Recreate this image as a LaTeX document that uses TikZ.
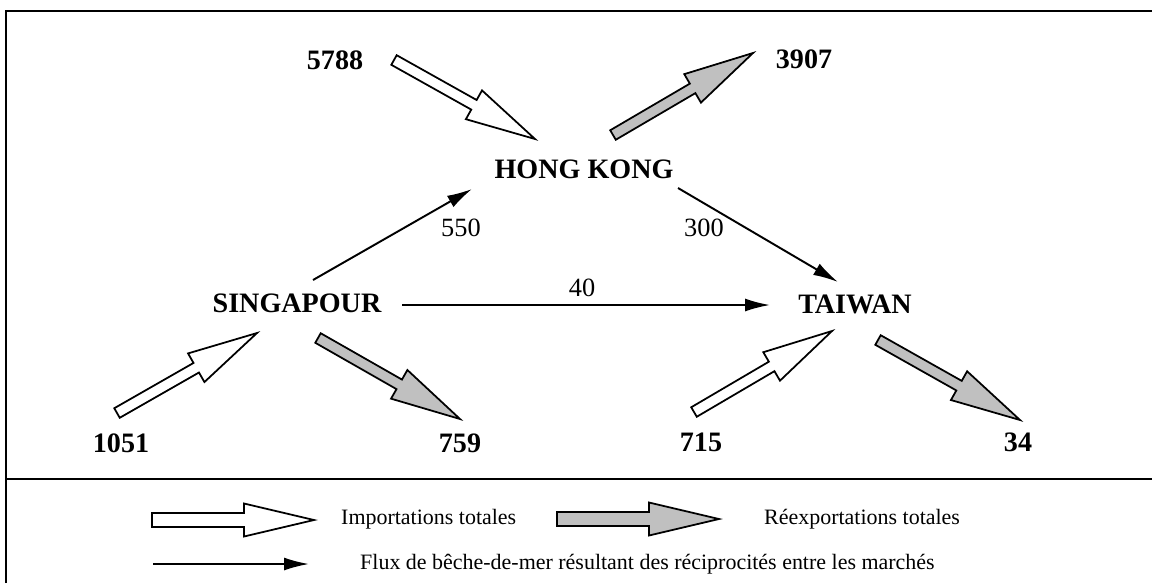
\documentclass[tikz,border=0pt]{standalone}
\usepackage{fontspec}
\setmainfont{Liberation Serif}
\usetikzlibrary{calc,arrows.meta}

\definecolor{silver}{RGB}{192,192,192}

\tikzset{
  city/.style={font=\fontsize{16}{18}\selectfont\bfseries},
  total/.style={font=\fontsize{16}{18}\selectfont\bfseries},
  flowlabel/.style={font=\fontsize{15}{17}\selectfont},
  legendtext/.style={font=\fontsize{12.5}{14}\selectfont, anchor=west},
  flow/.style={line width=1.1pt, -{Latex[length=0.5cm,width=0.26cm]}},
  importarrow/.style={draw, line width=1pt, fill=white},
  exportarrow/.style={draw, line width=1pt, fill=silver},
}

% 太い矢印: #1 スタイル, #2 軸の半幅, #3 始点, #4 終点
\newcommand{\blockarrow}[4]{%
  \coordinate (hb) at ($(#4)!1.4cm!(#3)$);
  \path[#1] ($(#3)!#2!90:(#4)$) -- ($(hb)!#2!90:(#4)$)
    -- ($(hb)!0.33cm!90:(#4)$) -- (#4) -- ($(hb)!0.33cm!-90:(#4)$)
    -- ($(hb)!#2!-90:(#4)$) -- ($(#3)!#2!-90:(#4)$) -- cycle;
}

\begin{document}
\begin{tikzpicture}[x=0.02cm, y=-0.02cm]
    \useasboundingbox (0,0) rectangle (1152,583);

    % 枠
    \draw[line width=1.2pt] (6,583) -- (6,11) -- (1152,11);
    \draw[line width=0.7pt] (6,479) -- (1152,479);

    % 市場
    \node[city] (hk) at (584,169) {HONG KONG};
    \node[city] (sing) at (297,303) {SINGAPOUR};
    \node[city] (tw) at (855,304) {TAIWAN};

    % 総量
    \node[total] (t5788) at (335,60) {5788};
    \node[total] (t3907) at (804,59) {3907};
    \node[total] (t1051) at (121,443) {1051};
    \node[total] (t759) at (460,443) {759};
    \node[total] (t715) at (701,442) {715};
    \node[total] (t34) at (1018,442) {34};

    % 矢印の端
    \coordinate (i5788a) at (394,60);   \coordinate (i5788b) at (535,139);
    \coordinate (e3907a) at (613,135);  \coordinate (e3907b) at (753,53);
    \coordinate (i1051a) at (117,413);  \coordinate (i1051b) at (257,333);
    \coordinate (e759a) at (318,338);   \coordinate (e759b) at (460,419);
    \coordinate (i715a) at (694,412);   \coordinate (i715b) at (832,331);
    \coordinate (e34a) at (878,340);    \coordinate (e34b) at (1020,420);

    \coordinate (sh1) at (313,280);  \coordinate (sh2) at (472,189);
    \coordinate (ht1) at (678,188);  \coordinate (ht2) at (838,282);
    \coordinate (st1) at (402,305);  \coordinate (st2) at (770,305);

    % 輸入と再輸出
    \blockarrow{importarrow}{0.11cm}{i5788a}{i5788b}
    \blockarrow{exportarrow}{0.11cm}{e3907a}{e3907b}
    \blockarrow{importarrow}{0.11cm}{i1051a}{i1051b}
    \blockarrow{exportarrow}{0.11cm}{e759a}{e759b}
    \blockarrow{importarrow}{0.11cm}{i715a}{i715b}
    \blockarrow{exportarrow}{0.11cm}{e34a}{e34b}

    % 市場間の流れ
    \draw[flow] (sh1) -- (sh2);
    \draw[flow] (ht1) -- (ht2);
    \draw[flow] (st1) -- (st2);
    \node[flowlabel] (f550) at (461,228) {550};
    \node[flowlabel] (f300) at (704,228) {300};
    \node[flowlabel] (f40) at (582,288) {40};

    % 凡例
    \coordinate (li1) at (152,520);  \coordinate (li2) at (314,520);
    \coordinate (le1) at (557,519);  \coordinate (le2) at (719,519);
    \coordinate (lf1) at (153,564);  \coordinate (lf2) at (309,564);
    \blockarrow{importarrow}{0.14cm}{li1}{li2}
    \blockarrow{exportarrow}{0.14cm}{le1}{le2}
    \draw[flow] (lf1) -- (lf2);
    \node[legendtext] (limp) at (335,519) {Importations totales};
    \node[legendtext] (lexp) at (758,519) {Réexportations totales};
    \node[legendtext] (lflux) at (354,564) {Flux de bêche-de-mer résultant des réciprocités entre les marchés};

\end{tikzpicture}
\end{document}
